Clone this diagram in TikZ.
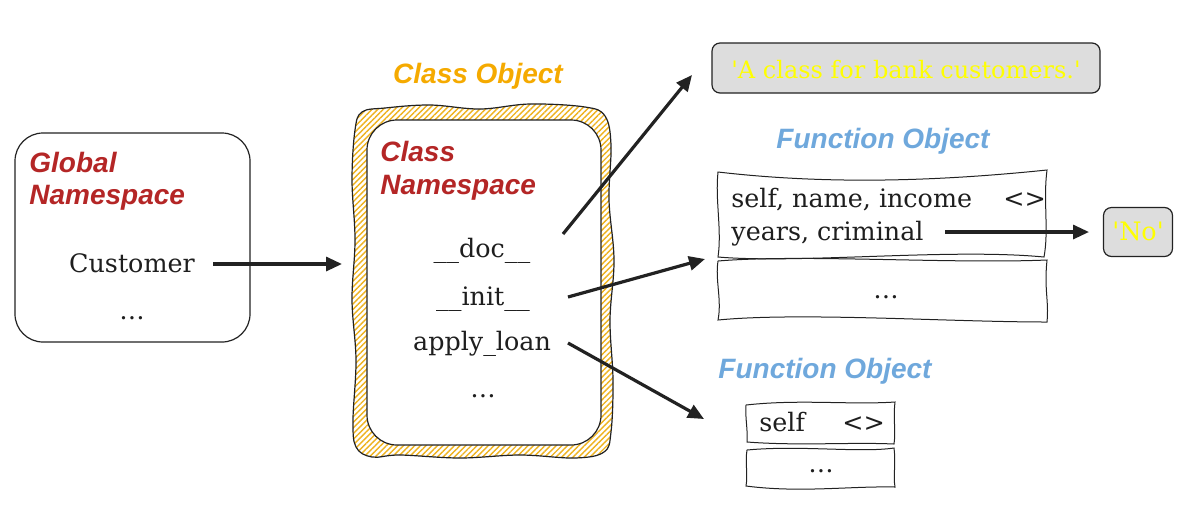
\documentclass[tikz,border=0pt]{standalone}
\usepackage{fontspec}
\setmainfont{DejaVu Serif}
\newfontfamily\tfont{Liberation Sans}
\usetikzlibrary{arrows.meta,patterns.meta}
\definecolor{tred}{RGB}{180,38,38}
\definecolor{torange}{RGB}{245,170,0}
\definecolor{tblue}{RGB}{111,168,220}
\definecolor{tyellow}{RGB}{255,255,0}
\definecolor{gfill}{RGB}{221,221,221}
\definecolor{textc}{RGB}{30,30,30}
\definecolor{linec}{RGB}{34,34,34}
\definecolor{hatchc}{RGB}{238,178,30}
\tikzset{
  ttl/.style={font=\tfont\bfseries\itshape\fontsize{14}{16}\selectfont, inner sep=0pt},
  txt/.style={font=\fontsize{12.7}{15}\selectfont, inner sep=0pt, text=textc},
  arr/.style={draw=linec, line width=1.6pt, -{Triangle[length=8pt,width=7pt]}},
  box/.style={draw=linec, line width=0.6pt},
  sketch/.style={draw=linec, line width=0.5pt},
}
\begin{document}
\begin{tikzpicture}[x=0.5pt,y=-0.5pt]
\useasboundingbox (0,0) rectangle (1181,521);

% Global namespace
\draw[box, rounded corners=14pt] (15,133) rectangle (250,342);
\node[ttl, text=tred, anchor=base west] (g1) at (29,172) {Global};
\node[ttl, text=tred, anchor=base west] (g2) at (29,204) {Namespace};
\node[txt, anchor=base] (cust) at (132,272) {Customer};
\node[txt, anchor=base] (gdots) at (132,319) {\dots};

% Class object (hatched wavy border)
\path[pattern={Lines[angle=45,distance=2pt,line width=0.7pt]}, pattern color=hatchc, draw=linec, line width=0.6pt]
  plot[smooth cycle, tension=0.6] coordinates {
  (385,108) (430,105) (480,109) (530,104) (585,107) (605,116)
  (611,145) (609,200) (614,260) (610,320) (613,380) (611,432)
  (604,452) (575,458) (520,455) (460,458) (400,455) (372,457)
  (356,447) (353,420) (356,360) (352,300) (355,240) (352,180) (355,130) (362,112)};
\draw[box, fill=white, rounded corners=15pt] (367,120) rectangle (601,445);
\node[ttl, text=torange, anchor=base] (co) at (478,83) {Class Object};
\node[ttl, text=tred, anchor=base west] (c1) at (380,161) {Class};
\node[ttl, text=tred, anchor=base west] (c2) at (380,194) {Namespace};
\node[txt, anchor=base] (doc) at (482,257) {\_\_doc\_\_};
\node[txt, anchor=base] (init) at (483,305) {\_\_init\_\_};
\node[txt, anchor=base] (apply) at (482,350) {apply\_loan};
\node[txt, anchor=base] (cdots) at (483,397) {\dots};

% Doc string box
\node[box, fill=gfill, rounded corners=4pt, minimum width=194pt, minimum height=25pt, inner sep=0pt] (docbox) at (906,68) {};
\node[txt, text=tyellow, anchor=base, font=\fontsize{12}{14}\selectfont] (doctext) at (906,78) {\textquotesingle A class for bank customers.\textquotesingle};

% Function object 1
\node[ttl, text=tblue, anchor=base] (fo1) at (883,148) {Function Object};
\draw[sketch] (718,172) .. controls (830,185) and (940,181) .. (1047,170)
  .. controls (1043,200) and (1049,230) .. (1044,257)
  .. controls (950,248) and (800,264) .. (718,257)
  .. controls (722,230) and (715,200) .. (718,172) -- cycle;
\draw[sketch] (718,261) .. controls (800,254) and (950,264) .. (1047,260)
  .. controls (1044,290) and (1049,300) .. (1047,322)
  .. controls (950,322) and (800,312) .. (718,320)
  .. controls (722,300) and (715,280) .. (718,261) -- cycle;
\node[txt, anchor=base west] (f1a) at (731,207) {self, name, income};
\node[txt, anchor=base west] (f1lt) at (1003,207) {\textless\textgreater};
\node[txt, anchor=base west] (f1b) at (731,240) {years, criminal};
\node[txt, anchor=base] (f1dots) at (886,298) {\dots};

% 'No' box
\node[box, fill=gfill, rounded corners=4pt, minimum width=34.5pt, minimum height=24.5pt, inner sep=0pt] (nobox) at (1138,232) {};
\node[txt, text=tyellow, anchor=base] (notext) at (1138,240) {\textquotesingle No\textquotesingle};

% Function object 2
\node[ttl, text=tblue, anchor=base] (fo2) at (825,378) {Function Object};
\draw[sketch] (746,405) .. controls (800,399) and (850,405) .. (895,402)
  .. controls (893,420) and (896,430) .. (894,444)
  .. controls (850,442) and (800,446) .. (747,442)
  .. controls (748,430) and (745,418) .. (746,405) -- cycle;
\draw[sketch] (747,450) .. controls (800,445) and (860,453) .. (894,448)
  .. controls (896,465) and (893,475) .. (895,487)
  .. controls (850,486) and (800,493) .. (746,486)
  .. controls (748,475) and (745,462) .. (747,450) -- cycle;
\node[txt, anchor=base west] (f2a) at (759,431) {self};
\node[txt, anchor=base west] (f2lt) at (842,431) {\textless\textgreater};
\node[txt, anchor=base] (f2dots) at (821,472) {\dots};

% connectors
\coordinate (a1s) at (213,264); \coordinate (a1e) at (342,264);
\coordinate (a2s) at (563,234); \coordinate (a2e) at (692,75);
\coordinate (a3s) at (568,297); \coordinate (a3e) at (705,259);
\coordinate (a4s) at (568,343); \coordinate (a4e) at (704,419);
\coordinate (a5s) at (945,232); \coordinate (a5e) at (1089,232);
\draw[arr] (a1s) -- (a1e);
\draw[arr] (a2s) -- (a2e);
\draw[arr] (a3s) -- (a3e);
\draw[arr] (a4s) -- (a4e);
\draw[arr] (a5s) -- (a5e);
\end{tikzpicture}
\end{document}
